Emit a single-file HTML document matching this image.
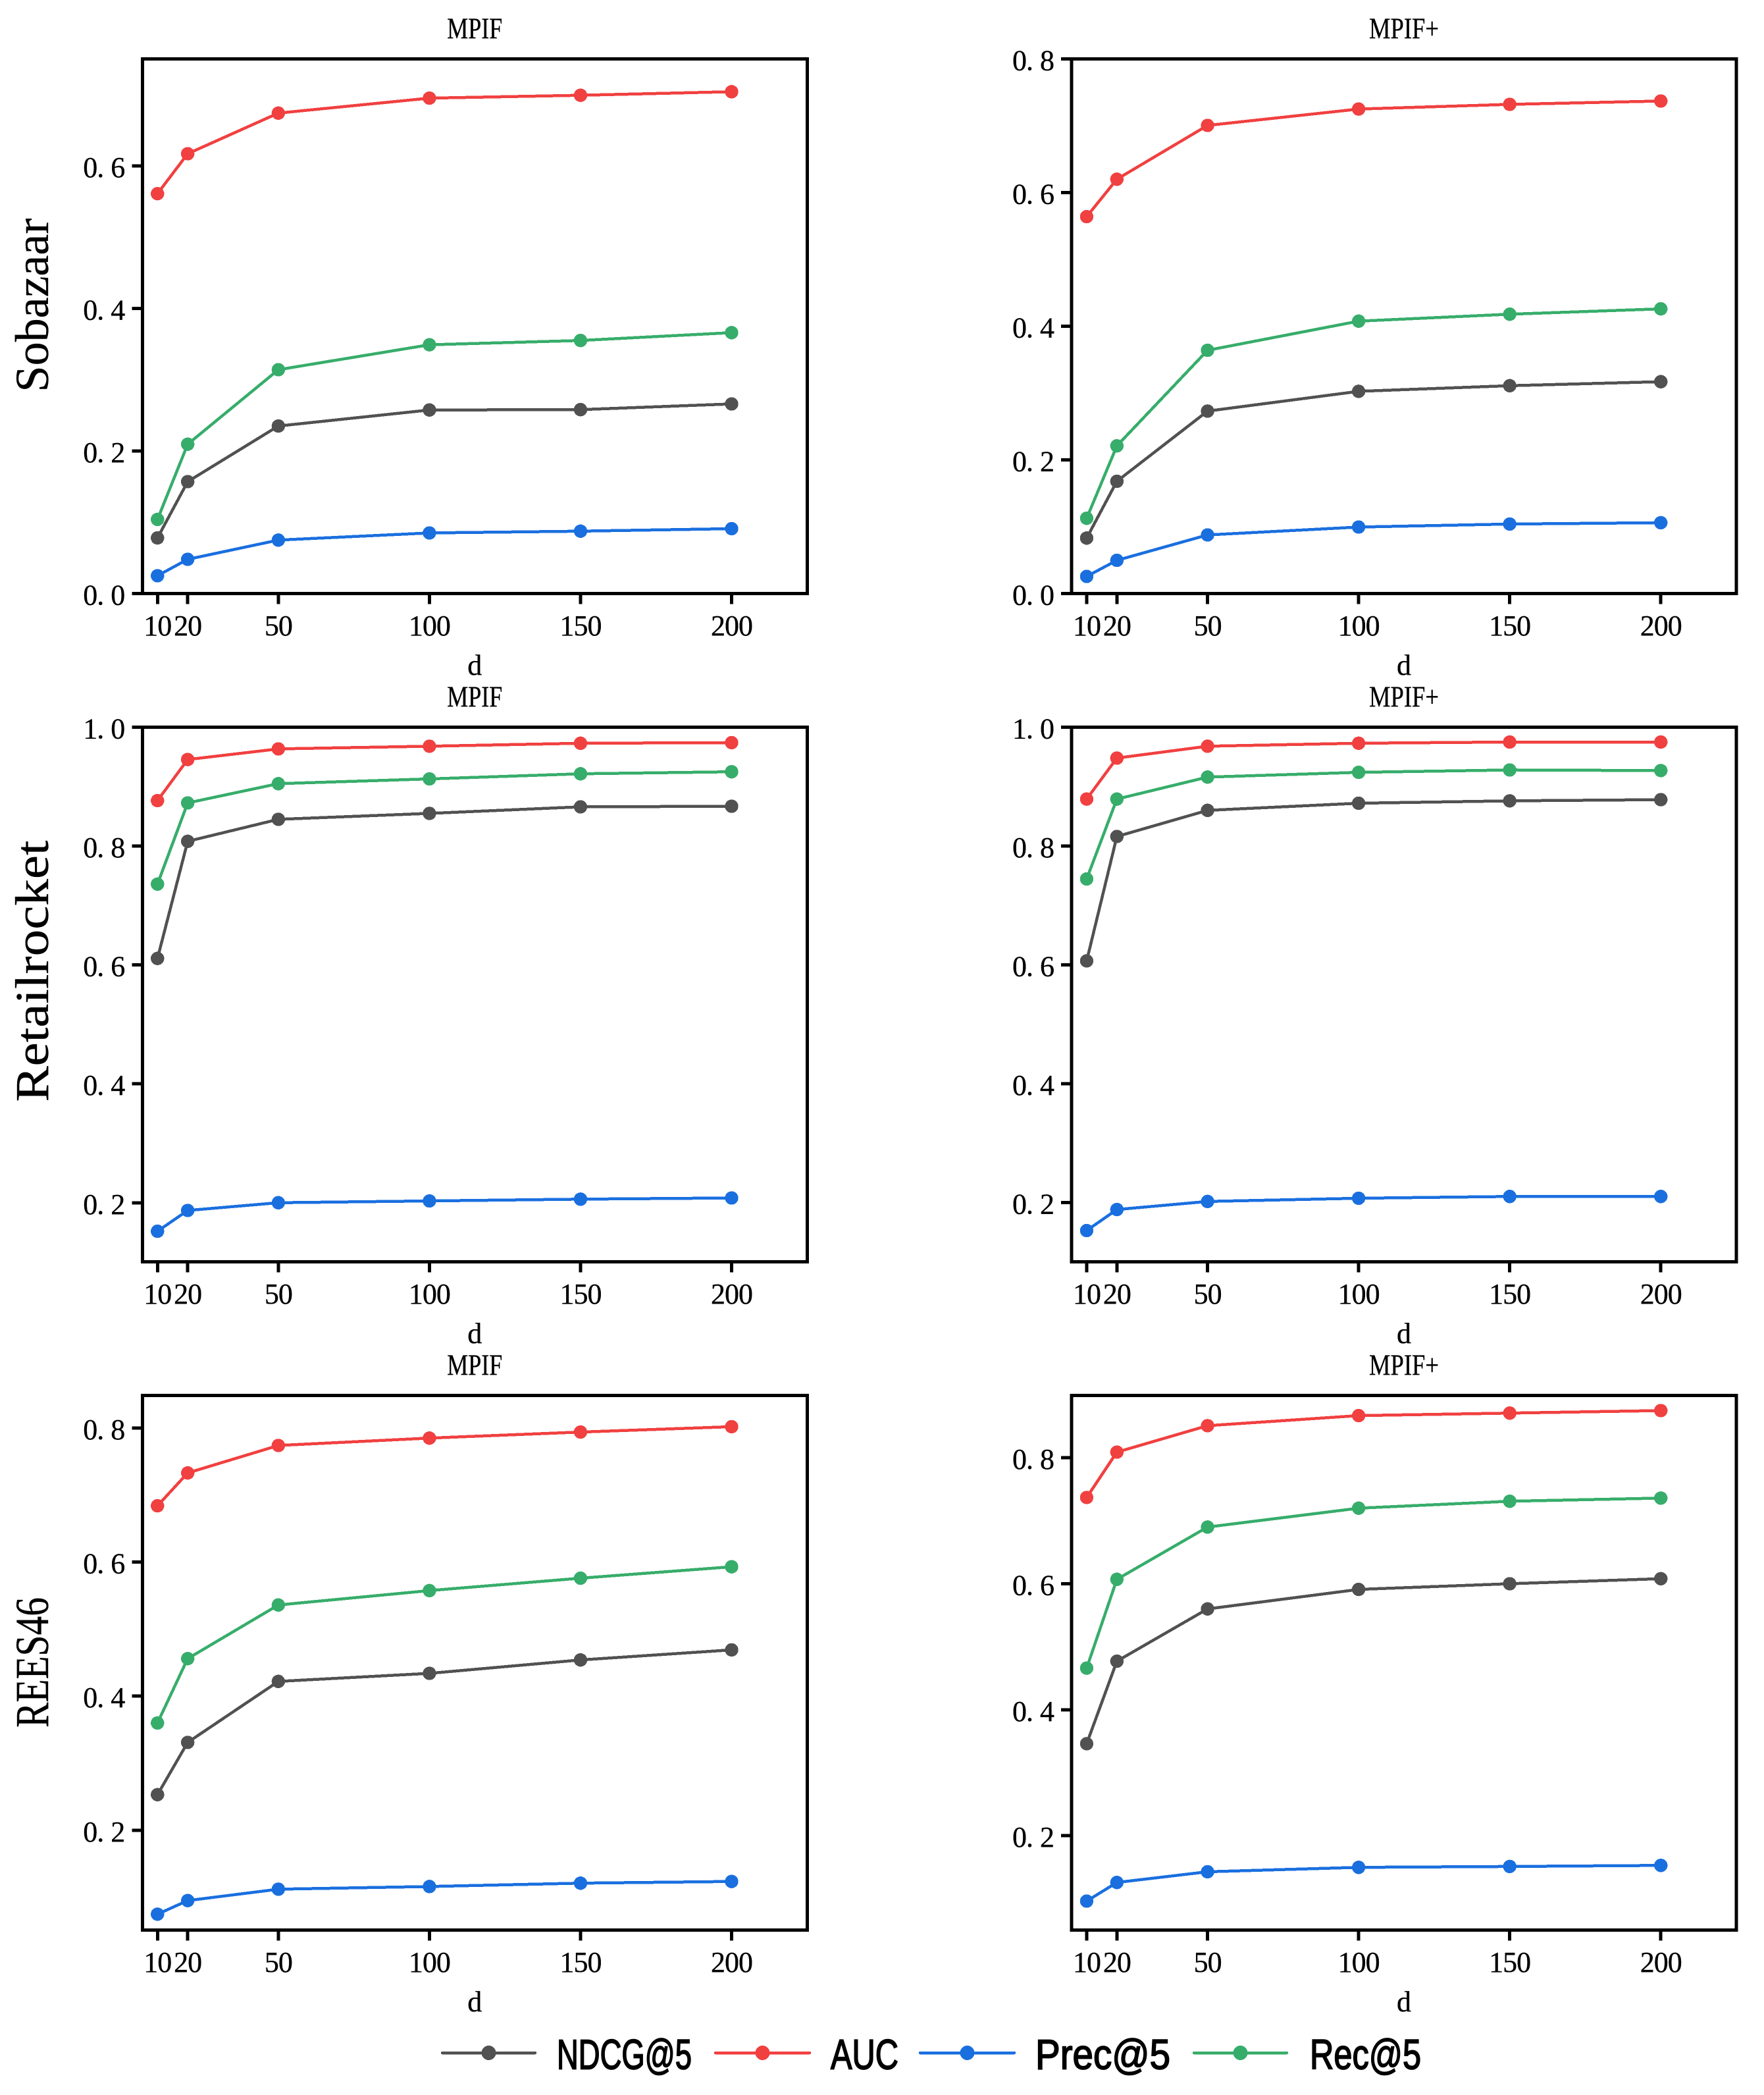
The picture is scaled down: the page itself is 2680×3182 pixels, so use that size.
<!DOCTYPE html>
<html lang="en">
<head>
<meta charset="utf-8">
<title>MPIF and MPIF+ metrics by embedding dimension d</title>
<style>
  html, body { margin: 0; padding: 0; background: #ffffff; }
  svg { display: block; }
  text { font-family: "Liberation Serif", "Noto Serif CJK SC", serif; fill: #000000; stroke: #000; stroke-width: 0.35px; }
  line, polyline, circle, rect { shape-rendering: crispEdges; }
  .legend-label { font-family: "Liberation Sans", "WenQuanYi Zen Hei", sans-serif; font-size: 64px; stroke: #000; stroke-width: 1.8px; }
</style>
</head>
<body>
<svg id="figure" xmlns="http://www.w3.org/2000/svg" width="2680" height="3182" viewBox="0 0 2680 3182"></svg>
<script>
// Shared categories and series information
const dValues = [10, 20, 50, 100, 150, 200];
const seriesNames = ['NDCG@5', 'AUC', 'Prec@5', 'Rec@5'];
const seriesColors = ['#515151', '#F14040', '#1A6FDF', '#37AD6B'];

// Sobazaar / MPIF
const sobazaarMpifNdcg = [0.078, 0.157, 0.235, 0.2575, 0.258, 0.266];
const sobazaarMpifAuc = [0.561, 0.617, 0.674, 0.695, 0.699, 0.704];
const sobazaarMpifPrec = [0.025, 0.048, 0.075, 0.085, 0.0875, 0.091];
const sobazaarMpifRec = [0.104, 0.2095, 0.314, 0.349, 0.355, 0.366];
const sobazaarMpifDomain = [0, 0.75];
const sobazaarMpifTicks = ['0.0', '0.2', '0.4', '0.6'];

// Sobazaar / MPIF+
const sobazaarPlusNdcg = [0.083, 0.168, 0.273, 0.3026, 0.311, 0.317];
const sobazaarPlusAuc = [0.564, 0.620, 0.7005, 0.725, 0.732, 0.737];
const sobazaarPlusPrec = [0.0256, 0.0497, 0.0877, 0.0995, 0.104, 0.106];
const sobazaarPlusRec = [0.1126, 0.221, 0.364, 0.4076, 0.418, 0.426];
const sobazaarPlusDomain = [0, 0.8];
const sobazaarPlusTicks = ['0.0', '0.2', '0.4', '0.6', '0.8'];

// Retailrocket / MPIF
const retailMpifNdcg = [0.611, 0.808, 0.845, 0.855, 0.866, 0.867];
const retailMpifAuc = [0.8765, 0.9456, 0.9635, 0.968, 0.973, 0.974];
const retailMpifPrec = [0.152, 0.187, 0.200, 0.203, 0.206, 0.208];
const retailMpifRec = [0.736, 0.8726, 0.905, 0.913, 0.9216, 0.925];
const retailMpifDomain = [0.1006, 1.0];
const retailMpifTicks = ['0.2', '0.4', '0.6', '0.8', '1.0'];

// Retailrocket / MPIF+
const retailPlusNdcg = [0.6066, 0.816, 0.860, 0.872, 0.876, 0.878];
const retailPlusAuc = [0.879, 0.948, 0.968, 0.973, 0.975, 0.975];
const retailPlusPrec = [0.1526, 0.188, 0.2016, 0.207, 0.210, 0.210];
const retailPlusRec = [0.7445, 0.879, 0.916, 0.924, 0.928, 0.927];
const retailPlusDomain = [0.1, 1.0];
const retailPlusTicks = ['0.2', '0.4', '0.6', '0.8', '1.0'];

// REES46 / MPIF
const reesMpifNdcg = [0.253, 0.331, 0.422, 0.434, 0.454, 0.469];
const reesMpifAuc = [0.684, 0.733, 0.774, 0.785, 0.794, 0.802];
const reesMpifPrec = [0.0747, 0.095, 0.112, 0.116, 0.121, 0.1235];
const reesMpifRec = [0.360, 0.456, 0.536, 0.5575, 0.576, 0.593];
const reesMpifDomain = [0.051, 0.8486];
const reesMpifTicks = ['0.2', '0.4', '0.6', '0.8'];

// REES46 / MPIF+
const reesPlusNdcg = [0.346, 0.477, 0.560, 0.591, 0.600, 0.608];
const reesPlusAuc = [0.737, 0.809, 0.851, 0.867, 0.871, 0.875];
const reesPlusPrec = [0.096, 0.1256, 0.1426, 0.1496, 0.151, 0.1527];
const reesPlusRec = [0.466, 0.607, 0.690, 0.720, 0.731, 0.736];
const reesPlusDomain = [0.05, 0.899];
const reesPlusTicks = ['0.2', '0.4', '0.6', '0.8'];

const xDomain = [5, 225];

const NS = 'http://www.w3.org/2000/svg';
const figure = document.getElementById('figure');

const COL_LEFT = [216.3, 1628];
const ROW_TOP = [89.5, 1104.5, 2119.5];
const AX_W = 1010;
const AX_H = 812;
const CHAR_W = 21;
const FONT = 44;

function make(parent, tag, attrs) {
  const el = document.createElementNS(NS, tag);
  for (const k in attrs) el.setAttribute(k, attrs[k]);
  parent.appendChild(el);
  return el;
}

function cellPositions(str, start) {
  return str.split('').map(function (c, i) { return start + i * CHAR_W; }).join(' ');
}

function slug(s) {
  return s.toLowerCase().replace(/[^a-z0-9]+/g, '-').replace(/-$/, '');
}

function drawPanel(col, row, title, rowLabel, labelCenter, labelLength, domain, ticks, series) {
  const x0 = COL_LEFT[col];
  const top = ROW_TOP[row];
  const bottom = top + AX_H;

  const xScale = function (v) { return x0 + (v - xDomain[0]) / (xDomain[1] - xDomain[0]) * AX_W; };
  const yScale = function (v) { return bottom - (v - domain[0]) / (domain[1] - domain[0]) * AX_H; };

  const panel = make(figure, 'g', {});
  
  

  // y axis ticks
  ticks.forEach(function (t) {
    const y = yScale(parseFloat(t));
    const tick = make(panel, 'line', { x1: x0 - 16, x2: x0, y1: y, y2: y, stroke: '#000', 'stroke-width': 5 });
    
    
    const label = make(panel, 'text', { x: cellPositions(t, x0 - 90), y: y + 17, 'font-size': FONT });
    label.textContent = t;
    
    
  });

  // x axis ticks
  dValues.forEach(function (d) {
    const x = xScale(d);
    const tick = make(panel, 'line', { x1: x, x2: x, y1: bottom, y2: bottom + 16, stroke: '#000', 'stroke-width': 5 });
    
    
    const str = String(d);
    const label = make(panel, 'text', { x: cellPositions(str, x - str.length * CHAR_W / 2), y: bottom + 63.5, 'font-size': FONT });
    label.textContent = str;
    
    
  });

  // series
  series.forEach(function (values, s) {
    const group = make(panel, 'g', {});
    
    
    const pts = values.map(function (v, i) { return xScale(dValues[i]) + ',' + yScale(v); }).join(' ');
    const line = make(group, 'polyline', { points: pts, fill: 'none', stroke: seriesColors[s], 'stroke-width': 4.5, 'stroke-linejoin': 'round' });
    
    
    values.forEach(function (v, i) {
      const dot = make(group, 'circle', { cx: xScale(dValues[i]), cy: yScale(v), r: 10.2, fill: seriesColors[s] });
      
      
    });
  });

  // axes frame
  const frame = make(panel, 'rect', { x: x0, y: top, width: AX_W, height: AX_H, fill: 'none', stroke: '#000', 'stroke-width': 5 });
  
  

  // title
  const centre = x0 + AX_W / 2;
  const titleEl = make(panel, 'text', {
    x: centre, y: top - 31, 'font-size': 45, 'text-anchor': 'middle',
    textLength: title.length === 4 ? 84 : 106, lengthAdjust: 'spacingAndGlyphs'
  });
  titleEl.textContent = title;
  
  

  // x label
  const xLabel = make(panel, 'text', { x: centre, y: bottom + 123.5, 'font-size': FONT, 'text-anchor': 'middle' });
  xLabel.textContent = 'd';
  
  

  // row label
  if (col === 0) {
    const yLabel = make(panel, 'text', {
      transform: 'translate(73,' + labelCenter + ') rotate(-90)',
      x: 0, y: 0, 'font-size': 72, 'text-anchor': 'middle',
      textLength: labelLength, lengthAdjust: 'spacingAndGlyphs'
    });
    yLabel.textContent = rowLabel;
    
    
  }
}

drawPanel(0, 0, 'MPIF', 'Sobazaar', 463.5, 264, sobazaarMpifDomain, sobazaarMpifTicks,
  [sobazaarMpifNdcg, sobazaarMpifAuc, sobazaarMpifPrec, sobazaarMpifRec]);
drawPanel(1, 0, 'MPIF+', 'Sobazaar', 463.5, 264, sobazaarPlusDomain, sobazaarPlusTicks,
  [sobazaarPlusNdcg, sobazaarPlusAuc, sobazaarPlusPrec, sobazaarPlusRec]);
drawPanel(0, 1, 'MPIF', 'Retailrocket', 1475, 397, retailMpifDomain, retailMpifTicks,
  [retailMpifNdcg, retailMpifAuc, retailMpifPrec, retailMpifRec]);
drawPanel(1, 1, 'MPIF+', 'Retailrocket', 1475, 397, retailPlusDomain, retailPlusTicks,
  [retailPlusNdcg, retailPlusAuc, retailPlusPrec, retailPlusRec]);
drawPanel(0, 2, 'MPIF', 'REES46', 2525, 198, reesMpifDomain, reesMpifTicks,
  [reesMpifNdcg, reesMpifAuc, reesMpifPrec, reesMpifRec]);
drawPanel(1, 2, 'MPIF+', 'REES46', 2525, 198, reesPlusDomain, reesPlusTicks,
  [reesPlusNdcg, reesPlusAuc, reesPlusPrec, reesPlusRec]);

// legend
const legend = make(figure, 'g', {});



function drawLegendEntry(s, lineStart, lineEnd, textStart, textWidth) {
  const entry = make(legend, 'g', {});
  
  
  const line = make(entry, 'line', { x1: lineStart, x2: lineEnd, y1: 3118, y2: 3118, stroke: seriesColors[s], 'stroke-width': 4.5, 'stroke-linecap': 'round' });
  
  
  const dot = make(entry, 'circle', { cx: (lineStart + lineEnd) / 2, cy: 3118, r: 11, fill: seriesColors[s] });
  
  
  const label = make(entry, 'text', { class: 'legend-label', x: textStart, y: 3142.5, textLength: textWidth, lengthAdjust: 'spacingAndGlyphs' });
  label.textContent = seriesNames[s];
  
  
}

drawLegendEntry(0, 672, 813, 846, 205);
drawLegendEntry(1, 1087, 1230, 1262, 103);
drawLegendEntry(2, 1398, 1541, 1573, 205);
drawLegendEntry(3, 1814, 1955, 1990, 169);
</script>
</body>
</html>
